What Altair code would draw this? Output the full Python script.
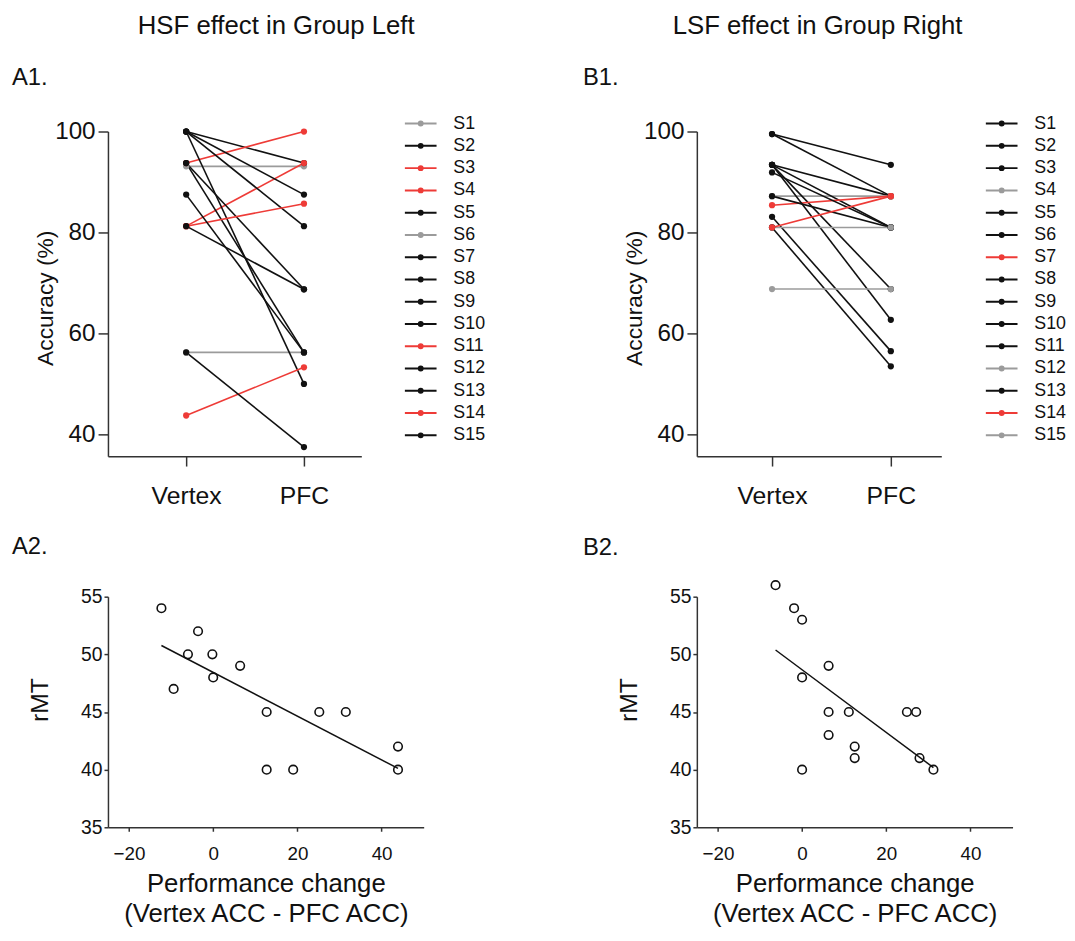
import altair as alt
import pandas as pd

FONT = "Liberation Sans"
RED = "#ee3b37"
BLACK = "#111111"
GRAY = "#9b9b9b"

subjects = ["S1", "S2", "S3", "S4", "S5", "S6", "S7", "S8", "S9", "S10",
            "S11", "S12", "S13", "S14", "S15"]
conditions = ["Vertex", "PFC"]

# ---- A1: HSF effect in Group Left ----
a1_vertex = [93.1, 100, 93.75, 81.25, 100, 56.25, 100, 100, 93.75, 93.75,
             81.25, 87.5, 81.25, 43.75, 56.25]
a1_pfc = [93.1, 93.75, 100, 93.75, 87.5, 56.25, 81.25, 50, 68.75, 56.25,
          85.7, 56.25, 68.75, 53.3, 37.5]
a1_colors = [GRAY, BLACK, RED, RED, BLACK, GRAY, BLACK, BLACK, BLACK, BLACK,
             RED, BLACK, BLACK, RED, BLACK]

# ---- B1: LSF effect in Group Right ----
b1_vertex = [99.5, 99.5, 93.4, 87.2, 93.4, 93.4, 85.4, 93.4, 91.9, 87.2,
             83.1, 81.0, 81.0, 81.0, 68.8]
b1_pfc = [93.4, 87.2, 87.2, 87.2, 81.0, 68.8, 87.2, 62.7, 81.0, 81.0,
          56.5, 81.0, 53.5, 87.2, 68.8]
b1_colors = [BLACK, BLACK, BLACK, GRAY, BLACK, BLACK, RED, BLACK, BLACK, BLACK,
             BLACK, GRAY, BLACK, RED, GRAY]

# ---- A2 / B2 scatter: performance change vs rMT ----
a2_change = [-12.3, -9.4, -6.0, -3.6, -0.2, 0.0, 6.4, 12.7, 12.7, 19.0,
             25.2, 31.5, 43.9, 43.9]
a2_rmt = [54, 47, 50, 52, 50, 48, 49, 45, 40, 40, 45, 45, 42, 40]
b2_change = [-6.3, -1.9, 0.0, 0.0, 0.0, 6.3, 6.3, 6.3, 11.1, 12.5, 12.5,
             24.9, 27.1, 27.9, 31.2]
b2_rmt = [56, 54, 53, 48, 40, 49, 45, 43, 45, 42, 41, 45, 45, 41, 40]

LEGEND_PATH = ("M-3.2,0L3.2,0"
               "M0.2,0A0.2,0.2,0,1,1,-0.2,0A0.2,0.2,0,1,1,0.2,0Z"
               "M0.4,0A0.4,0.4,0,1,1,-0.4,0A0.4,0.4,0,1,1,0.4,0Z")


def paired_panel(vertex, pfc, colors, width, xdom, heading, heading_x,
                 label, label_x, legend_x):
    rows = []
    for s, v, p in zip(subjects, vertex, pfc):
        rows.append({"subject": s, "cond": 0, "acc": v})
        rows.append({"subject": s, "cond": 1, "acc": p})
    df = pd.DataFrame(rows)
    cscale = alt.Scale(domain=subjects, range=colors)
    x = alt.X("cond:Q", scale=alt.Scale(domain=xdom, nice=False, zero=False),
              axis=alt.Axis(values=[0, 1], title=None, tickSize=10,
                            labelPadding=18, labelFontSize=25, labelFlush=False,
                            labelExpr="datum.value == 0 ? 'Vertex' : 'PFC'"))
    y = alt.Y("acc:Q", scale=alt.Scale(domain=[35.7, 100], nice=False, zero=False),
              axis=alt.Axis(values=[40, 60, 80, 100], title="Accuracy (%)",
                            tickSize=10, labelPadding=3, labelFontSize=24.5,
                            titleFontSize=23, titleX=-51, titleY=168))
    lines = alt.Chart(df).mark_line(strokeWidth=1.6).encode(
        x=x, y=y, detail="subject:N",
        color=alt.Color("subject:N", scale=cscale, legend=alt.Legend(
            title=None, orient="none", legendX=legend_x, legendY=-17,
            symbolType=LEGEND_PATH, symbolSize=100, symbolStrokeWidth=2,
            labelFontSize=18, labelFont=FONT, labelOffset=24, rowPadding=4.5,
            padding=0, labelColor="#111")))
    pts = alt.Chart(df).mark_point(filled=True, size=40, opacity=1).encode(
        x="cond:Q", y="acc:Q",
        color=alt.Color("subject:N", scale=cscale, legend=None))
    lab = alt.Chart(pd.DataFrame({"t": [label]})).mark_text(
        align="left", baseline="middle", fontSize=24, font=FONT, color="#111"
    ).encode(text="t:N", x=alt.value(label_x), y=alt.value(-54))
    head = alt.Chart(pd.DataFrame({"t": [heading]})).mark_text(
        align="center", baseline="middle", fontSize=26, font=FONT, color="#111"
    ).encode(text="t:N", x=alt.value(heading_x), y=alt.value(-107))
    return alt.layer(lines, pts, lab, head).properties(width=width, height=328)


def scatter_panel(change, rmt, label, label_x, label_y):
    df = pd.DataFrame({"x": change, "y": rmt})
    x = alt.X("x:Q", scale=alt.Scale(domain=[-25, 50], nice=False, zero=False),
              axis=alt.Axis(values=[-20, 0, 20, 40], tickSize=4, labelPadding=14,
                            labelFontSize=19, labelFlush=False,
                            title=["Performance change", "(Vertex ACC - PFC ACC)"],
                            titleFontSize=26, titleLineHeight=30, titleY=44))
    y = alt.Y("y:Q", scale=alt.Scale(domain=[35, 55], nice=False, zero=False),
              axis=alt.Axis(values=[35, 40, 45, 50, 55], tickSize=4, labelPadding=2,
                            labelFontSize=19.5, title="rMT", titleFontSize=25,
                            titleX=-56, titleY=104))
    pts = alt.Chart(df).mark_point(shape="circle", filled=False, color=BLACK,
                                   strokeWidth=1.6, size=75, opacity=1).encode(x=x, y=y)
    reg = alt.Chart(df).transform_regression("x", "y").mark_line(
        color=BLACK, strokeWidth=1.5).encode(x="x:Q", y="y:Q")
    lab = alt.Chart(pd.DataFrame({"t": [label]})).mark_text(
        align="left", baseline="middle", fontSize=24, font=FONT, color="#111"
    ).encode(text="t:N", x=alt.value(label_x), y=alt.value(label_y))
    return alt.layer(pts, reg, lab).properties(width=319, height=233)


a1 = paired_panel(a1_vertex, a1_pfc, a1_colors, 256, [-0.664, 1.487],
                  "HSF effect in Group Left", 170, "A1.", -97, 307)
b1 = paired_panel(b1_vertex, b1_pfc, b1_colors, 247, [-0.633, 1.425],
                  "LSF effect in Group Right", 122, "B1.", -115, 299)
a2 = scatter_panel(a2_change, a2_rmt, "A2.", -97, -50)
b2 = scatter_panel(b2_change, b2_rmt, "B2.", -115, -49)

chart = alt.concat(a1, b1, a2, b2, columns=2,
                   spacing={"row": 27, "column": 98}).resolve_scale(
    color="independent").properties(
    padding={"left": 4, "top": 0, "right": 0, "bottom": 0}
).configure_view(stroke=None).configure_axis(
    grid=False, domainColor="#333333", domainWidth=1.5, tickColor="#333333",
    tickWidth=1.5, labelColor="#111111", titleColor="#111111",
    labelFont=FONT, titleFont=FONT, titleFontWeight="normal"
).configure_text(font=FONT)

chart.save("out.html", embed_options={"renderer": "svg", "actions": False})
